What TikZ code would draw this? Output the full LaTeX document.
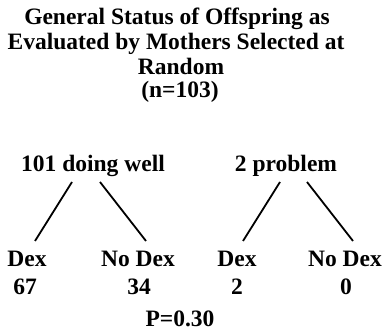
\documentclass[tikz,border=0pt]{standalone}
\usepackage{fontspec}
\setmainfont{Liberation Serif}
\begin{document}
\begin{tikzpicture}[x=1pt,y=1pt,
  lbl/.style={inner sep=0pt,anchor=base,font=\fontsize{23.5}{25}\selectfont\bfseries},
  branch/.style={line width=1.8pt}]
\useasboundingbox (0,0) rectangle (387,331);
% title, four centred lines
\node[lbl] (t1) at (177,306) {General Status of Offspring as};
\node[lbl] (t2) at (176,281) {Evaluated by Mothers Selected at};
\node[lbl] (t3) at (181,256) {Random};
\node[lbl] (t4) at (180,233) {(n=103)};
% two groups
\node[lbl] (well) at (93,159) {101 doing well};
\node[lbl] (prob) at (286,159) {2 problem};
% leaves
\node[lbl] (dexA) at (27,64) {Dex};
\node[lbl] (noA)  at (138,64) {No Dex};
\node[lbl] (dexB) at (237,64) {Dex};
\node[lbl] (noB)  at (345,64) {No Dex};
\node[lbl] (nA) at (25,36) {67};
\node[lbl] (nB) at (139,36) {34};
\node[lbl] (nC) at (237,36) {2};
\node[lbl] (nD) at (346,36) {0};
\node[lbl] (p) at (180,5) {P=0.30};
% branches
\draw[branch] ([xshift=-21pt,yshift=-10pt]well.base) -- ([xshift=8pt,yshift=26pt]dexA.base);
\draw[branch] ([xshift=7pt,yshift=-10pt]well.base) -- ([xshift=8pt,yshift=26pt]noA.base);
\draw[branch] ([xshift=-6pt,yshift=-10pt]prob.base) -- ([xshift=6pt,yshift=26pt]dexB.base);
\draw[branch] ([xshift=21pt,yshift=-10pt]prob.base) -- ([xshift=8pt,yshift=26pt]noB.base);
\end{tikzpicture}
\end{document}
